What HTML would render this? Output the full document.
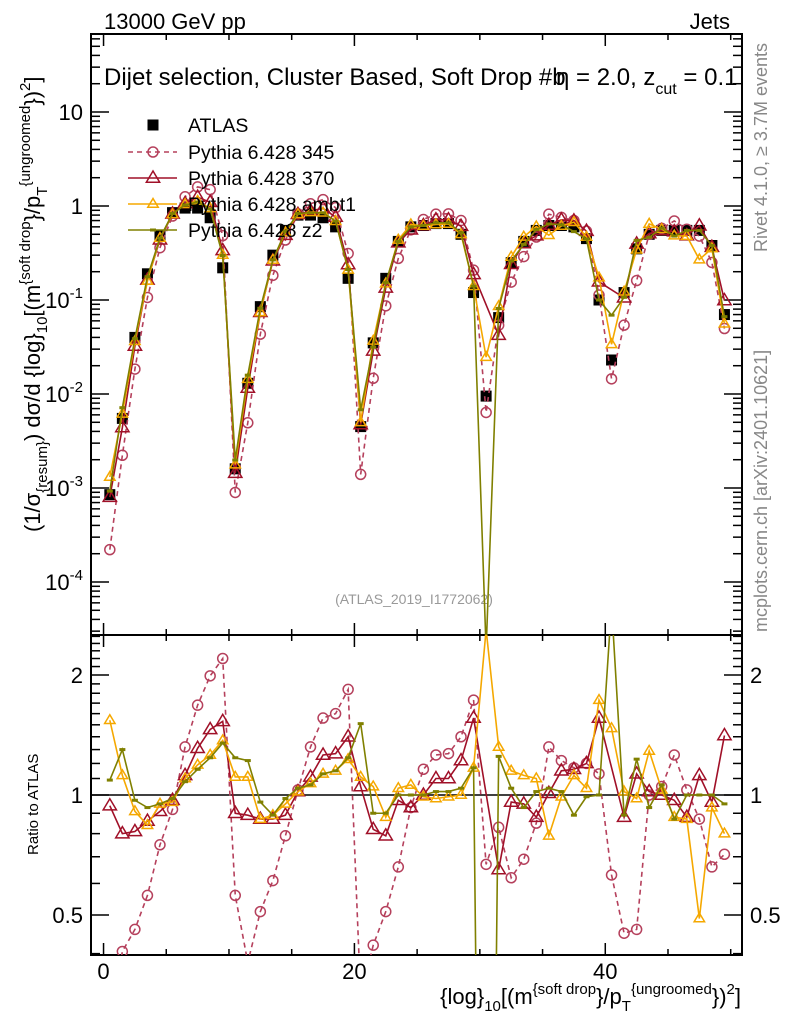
<!DOCTYPE html>
<html><head><meta charset="utf-8"><style>
html,body{margin:0;padding:0;background:#fff;width:786px;height:1024px;overflow:hidden}
svg{display:block;font-family:"Liberation Sans",sans-serif}
</style></head><body>
<svg id="chart" width="786" height="1024" viewBox="0 0 786 1024" xmlns="http://www.w3.org/2000/svg">
<defs>
<clipPath id="clipMain"><rect x="91" y="34" width="651" height="601"/></clipPath>
<clipPath id="clipRatio"><rect x="91" y="635" width="651" height="320"/></clipPath>
</defs>
<text x="104" y="29" font-size="22">13000 GeV pp</text>
<text x="730" y="29" font-size="22" text-anchor="end">Jets</text>
<text x="104" y="85" font-size="24">Dijet selection, Cluster Based, Soft Drop #b<tspan x="556">η = 2.0, z</tspan><tspan font-size="16" dy="9">cut</tspan><tspan dy="-9"> = 0.1</tspan></text>
<text transform="translate(767,252) rotate(-90)" font-size="18" fill="#888">Rivet 4.1.0, ≥ 3.7M events</text>
<text transform="translate(767,632) rotate(-90)" font-size="18" fill="#888">mcplots.cern.ch [arXiv:2401.10621]</text>
<text x="414" y="604" font-size="14" fill="#999" text-anchor="middle">(ATLAS_2019_I1772062)</text>
<text transform="translate(40,532) rotate(-90)" font-size="22">(1/σ<tspan font-size="15" dy="7">{resum}</tspan><tspan dy="-7">) dσ/d {log}</tspan><tspan font-size="15" dy="7">10</tspan><tspan dy="-7">[(m</tspan><tspan font-size="15" dy="-10">{soft drop</tspan><tspan dy="10">}/p</tspan><tspan font-size="15" dy="7">T</tspan><tspan font-size="15" dy="-17">{ungroomed</tspan><tspan dy="10">})</tspan><tspan font-size="15" dy="-10">2</tspan><tspan dy="10">]</tspan></text>
<text transform="translate(38,855) rotate(-90)" font-size="15">Ratio to ATLAS</text>
<text x="741" y="1004" font-size="22" text-anchor="end">{log}<tspan font-size="15" dy="7">10</tspan><tspan dy="-7">[(m</tspan><tspan font-size="15" dy="-10">{soft drop</tspan><tspan dy="10">}/p</tspan><tspan font-size="15" dy="7">T</tspan><tspan font-size="15" dy="-17">{ungroomed</tspan><tspan dy="10">})</tspan><tspan font-size="15" dy="-10">2</tspan><tspan dy="10">]</tspan></text>
<g id="axes"></g>
<g id="mainMarks" clip-path="url(#clipMain)"></g>
<g id="ratioMarks" clip-path="url(#clipRatio)"></g>
<g id="legend"></g>
</svg>
<script>
const binCenters = Array.from({length:50},(_, i)=>i+0.5);
const atlas = [0.00085,0.0055,0.04,0.19,0.48,0.85,0.95,0.95,0.75,0.22,
0.0016,0.013,0.085,0.3,0.55,0.8,0.8,0.75,0.6,0.17,
0.0045,0.035,0.17,0.42,0.6,0.62,0.65,0.65,0.5,0.12,
0.0095,0.065,0.25,0.42,0.55,0.62,0.62,0.6,0.45,0.1,
0.023,0.12,0.35,0.5,0.55,0.55,0.55,0.55,0.38,0.07];
const ratio345 = [0.26,0.405,0.46,0.56,0.75,0.92,1.32,1.68,1.99,2.20,
0.56,0.38,0.51,0.61,0.79,1.03,1.32,1.56,1.60,1.84,
0.31,0.42,0.51,0.66,0.93,1.16,1.26,1.27,1.40,1.73,
0.67,0.83,0.62,0.69,0.85,1.32,1.22,1.17,1.20,1.13,
0.63,0.45,0.46,1.0,1.05,1.26,1.03,0.87,0.66,0.71];
const ratio370 = [0.94,0.80,0.81,0.86,0.91,0.97,1.12,1.31,1.46,1.53,
0.90,0.89,0.87,0.87,0.89,1.02,1.11,1.26,1.27,1.40,
1.05,0.82,0.79,0.97,0.93,1.0,1.10,1.10,1.22,1.56,
null,0.65,0.96,0.95,0.88,1.01,1.15,1.16,1.20,1.56,
null,0.88,1.13,1.02,1.0,0.97,0.88,1.12,0.96,1.41];
const ratioAmbt1 = [1.54,1.12,0.91,0.84,0.95,0.96,1.10,1.19,1.26,1.37,
1.11,1.11,0.87,0.89,0.95,1.02,1.07,1.13,1.15,1.23,
1.11,1.05,0.88,1.04,1.06,0.99,0.98,0.99,1.0,1.17,
2.6,1.32,1.15,1.12,1.10,0.79,0.99,1.12,1.04,1.73,
1.47,1.02,0.98,1.29,1.03,0.88,0.87,0.49,0.93,0.80];
const ratioZ2 = [1.09,1.30,0.97,0.93,0.95,0.98,1.08,1.16,1.24,1.35,
1.24,1.22,0.96,0.89,0.98,1.04,1.06,1.13,1.15,1.24,
1.51,0.90,0.90,1.0,1.0,1.0,1.02,1.02,1.04,1.17,
0.002,1.25,1.04,0.93,1.02,1.04,1.02,0.89,0.99,1.0,
3.0,0.89,1.23,0.93,1.06,0.87,1.0,1.0,1.0,0.95];
const xTickLabels = [0,20,40];
const mainTickExponents = [-4,-3,-2,-1,0,1];
const ratioTickLabels = [0.5,1,2];

const NS="http://www.w3.org/2000/svg";
const X0=91,X1=742,MT=34,MB=635,RT=635,RB=955;
const xMin=-1,xMax=50.9;
const xs=v=>X0+(v-xMin)/(xMax-xMin)*(X1-X0);
const yMain=v=>206-94*Math.log10(v);
const yRatio=v=>795-120*Math.log2(v);
function mk(tag,attrs,parent){const e=document.createElementNS(NS,tag);for(const k in attrs)e.setAttribute(k,attrs[k]);parent.appendChild(e);return e;}
const axes=document.getElementById('axes');
let f1=mk('rect',{x:X0,y:MT,width:X1-X0,height:MB-MT,fill:'none',stroke:'#000','stroke-width':2},axes);


let f2=mk('rect',{x:X0,y:RT,width:X1-X0,height:RB-RT,fill:'none',stroke:'#000','stroke-width':2},axes);


for(let v=0;v<=50;v+=5){
  const L=(v%20===0)?12:6, x=xs(v);
  [[MT,1],[MB,-1],[RT,1],[RB,-1]].forEach(([y,d])=>{
    const t=mk('line',{x1:x,x2:x,y1:y,y2:y+d*L,stroke:'#000','stroke-width':1.5},axes);
    
    
  });
}
xTickLabels.forEach(v=>{
  const t=mk('text',{x:xs(v),y:979,'font-size':22,'text-anchor':'middle'},axes);t.textContent=v;
  
  
});
for(let e=-5;e<=1;e++){
  for(let m=1;m<10;m++){
    const v=m*Math.pow(10,e), y=yMain(v);
    if(y<MT||y>MB) continue;
    const L=m===1?18:9;
    [[X0,1],[X1,-1]].forEach(([x,d])=>{
      const t=mk('line',{x1:x,x2:x+d*L,y1:y,y2:y,stroke:'#000','stroke-width':1.5},axes);
      
      
    });
  }
}
mainTickExponents.forEach(e=>{
  const y=yMain(Math.pow(10,e));
  const t=mk('text',{x:83,y:y+8,'font-size':22,'text-anchor':'end'},axes);
  if(e===0) t.textContent='1';
  else if(e===1) t.textContent='10';
  else { t.textContent='10'; const sp=mk('tspan',{'font-size':15,dy:-10},t); sp.textContent=String(e); }
  
  
});
const rt=[];
for(let v=0.4;v<=2.55;v+=0.1) rt.push(Math.round(v*10)/10);
rt.forEach(v=>{
  const y=yRatio(v); if(y<RT||y>RB) return;
  const L=(v===0.5||v===1||v===2)?18:9;
  [[X0,1],[X1,-1]].forEach(([x,d])=>{
    const t=mk('line',{x1:x,x2:x+d*L,y1:y,y2:y,stroke:'#000','stroke-width':1.5},axes);
    
    
  });
});
ratioTickLabels.forEach(v=>{
  const y=yRatio(v);
  [[83,'end'],[750,'start']].forEach(([x,a])=>{
    const t=mk('text',{x:x,y:y+8,'font-size':22,'text-anchor':a},axes);t.textContent=v;
    
    
  });
});
const one=mk('line',{x1:X0,x2:X1,y1:yRatio(1),y2:yRatio(1),stroke:'#000','stroke-width':1.5},axes);



function marker(g,type,x,y,color,size){
  let e;
  if(type==='circle') e=mk('circle',{cx:x,cy:y,r:size,fill:'none',stroke:color,'stroke-width':1.5},g);
  else if(type==='tri') e=mk('polygon',{points:`${x},${y-size} ${x-size*0.95},${y+size*0.6} ${x+size*0.95},${y+size*0.6}`,fill:'none',stroke:color,'stroke-width':1.5},g);
  else if(type==='square') e=mk('rect',{x:x-size,y:y-size,width:2*size,height:2*size,fill:color},g);
  else e=mk('line',{x1:x-3,x2:x+3,y1:y,y2:y,stroke:color,'stroke-width':3},g);
  return e;
}
const series=[
 {name:'pythia-345',ratio:ratio345,color:'#b5405c',dash:'5,4',type:'circle',size:5,label:'Pythia 6.428 345'},
 {name:'pythia-370',ratio:ratio370,color:'#a01028',dash:null,type:'tri',size:7,label:'Pythia 6.428 370'},
 {name:'pythia-ambt1',ratio:ratioAmbt1,color:'#f5a800',dash:null,type:'tri',size:5.5,label:'Pythia 6.428 ambt1'},
 {name:'pythia-z2',ratio:ratioZ2,color:'#808000',dash:null,type:'bar',size:3,label:'Pythia 6.428 z2'}
];
const mainG=document.getElementById('mainMarks'), ratioG=document.getElementById('ratioMarks');
atlas.forEach((v,i)=>{
  const m=marker(mainG,'square',xs(binCenters[i]),yMain(v),'#000',5.5);
  
  
});
series.forEach(s=>{
  const ptsM=[],ptsR=[];
  s.ratio.forEach((r,i)=>{ if(r===null) return;
    ptsM.push([xs(binCenters[i]),yMain(atlas[i]*r)]);
    ptsR.push([xs(binCenters[i]),yRatio(r)]);
  });
  [[mainG,ptsM,'main'],[ratioG,ptsR,'ratio']].forEach(([g,pts,k])=>{
    const attrs={points:pts.map(p=>p.join(',')).join(' '),fill:'none',stroke:s.color,'stroke-width':1.6};
    if(s.dash) attrs['stroke-dasharray']=s.dash;
    const pl=mk('polyline',attrs,g);
    
    
    pts.forEach(p=>{
      const m=marker(g,s.type,p[0],p[1],s.color,s.size);
      
      
    });
  });
});
const lg=document.getElementById('legend');
const ly=[125,152,178,204,230];
const la=marker(lg,'square',153,ly[0],'#000',5.5);


const lt0=mk('text',{x:188,y:ly[0]+7,'font-size':19.5},lg);lt0.textContent='ATLAS';


series.forEach((s,i)=>{
  const y=ly[i+1];
  const a={x1:128,x2:177,y1:y,y2:y,stroke:s.color,'stroke-width':1.6};
  if(s.dash)a['stroke-dasharray']=s.dash;
  const l=mk('line',a,lg);
  
  
  const m=marker(lg,s.type,153,y,s.color,s.size);
  
  
  const t=mk('text',{x:188,y:y+7,'font-size':19.5},lg);t.textContent=s.label;
  
  
});
</script>
</body></html>
